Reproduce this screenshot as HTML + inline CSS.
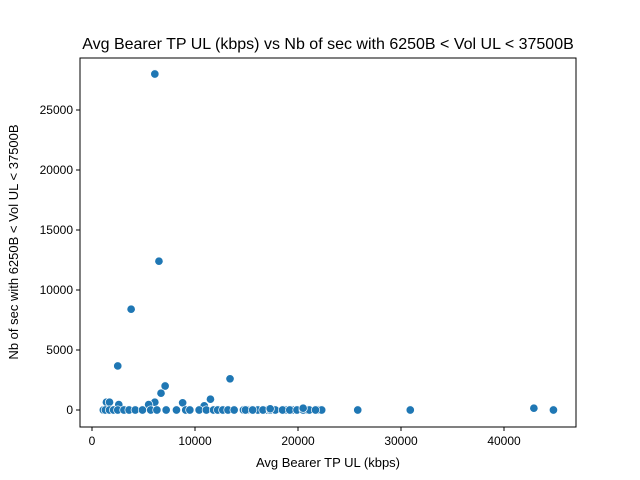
<!DOCTYPE html>
<html><head><meta charset="utf-8"><style>
body{margin:0;background:#fff}svg{display:block;font-family:"Liberation Sans","DejaVu Sans",sans-serif}
</style></head><body>
<svg id="chart" width="640" height="480">
<rect x="0" y="0" width="640" height="480" fill="#fff"/>
<text x="328" y="49" font-size="16" text-anchor="middle">Avg Bearer TP UL (kbps) vs Nb of sec with 6250B &lt; Vol UL &lt; 37500B</text>
<text x="328" y="467" font-size="13" text-anchor="middle">Avg Bearer TP UL (kbps)</text>
<text transform="translate(18,242) rotate(-90)" font-size="13" text-anchor="middle">Nb of sec with 6250B &lt; Vol UL &lt; 37500B</text>
<g id="ticks"></g>
<g id="points"></g>
<rect x="80" y="58" width="496" height="369" fill="none" stroke="#000" stroke-width="1"/>
</svg>
<script>
const xTicks=[0,10000,20000,30000,40000];
const yTicks=[0,5000,10000,15000,20000,25000];
const xVals=[6100,6500,3800,2500,7100,6700,13400,11500,8800,10900,6100,5500,1400,1700,2600,
1100,1300,1700,2100,2500,3100,3600,4200,4900,5700,6300,7200,8200,9100,9500,10400,11100,11800,12200,12700,13200,13800,14700,15200,15500,16100,17000,17600,18800,19500,20500,20800,22000,22300,
14900,15600,16600,17300,17800,18500,19200,19900,20500,21100,21700,17300,20500,
25800,30900,42900,44800];
const yVals=[28000,12400,8400,3670,2000,1400,2600,900,600,350,650,450,650,650,450,
0,0,0,0,0,0,0,0,0,0,0,0,0,0,0,0,0,0,0,0,0,0,0,0,0,0,0,0,0,0,0,0,0,0,
0,0,0,0,0,0,0,0,0,0,0,100,150,
0,0,150,0];
const sx=v=>92+v*0.0103, sy=v=>410-v*0.012;
const NS='http://www.w3.org/2000/svg';
const tg=document.getElementById('ticks'), pg=document.getElementById('points');
xTicks.forEach(t=>{
 const l=document.createElementNS(NS,'line');
 l.setAttribute('x1',sx(t));l.setAttribute('x2',sx(t));l.setAttribute('y1',427);l.setAttribute('y2',431);l.setAttribute('stroke','#000');
 
 
 tg.appendChild(l);
 const s=document.createElementNS(NS,'text');
 s.setAttribute('x',sx(t));s.setAttribute('y',445);s.setAttribute('font-size','12');s.setAttribute('text-anchor','middle');s.textContent=t;
 
 
 tg.appendChild(s);
});
yTicks.forEach(t=>{
 const l=document.createElementNS(NS,'line');
 l.setAttribute('x1',76);l.setAttribute('x2',80);l.setAttribute('y1',sy(t));l.setAttribute('y2',sy(t));l.setAttribute('stroke','#000');
 
 
 tg.appendChild(l);
 const s=document.createElementNS(NS,'text');
 s.setAttribute('x',73);s.setAttribute('y',sy(t)+4);s.setAttribute('font-size','12');s.setAttribute('text-anchor','end');s.textContent=t;
 
 
 tg.appendChild(s);
});
xVals.forEach((v,i)=>{
 const c=document.createElementNS(NS,'circle');
 c.setAttribute('cx',sx(v));c.setAttribute('cy',sy(yVals[i]));c.setAttribute('r',4.2);
 c.setAttribute('fill','#1f77b4');c.setAttribute('stroke','#fff');c.setAttribute('stroke-width','0.7');
 
 
 pg.appendChild(c);
});
</script>
</body></html>
